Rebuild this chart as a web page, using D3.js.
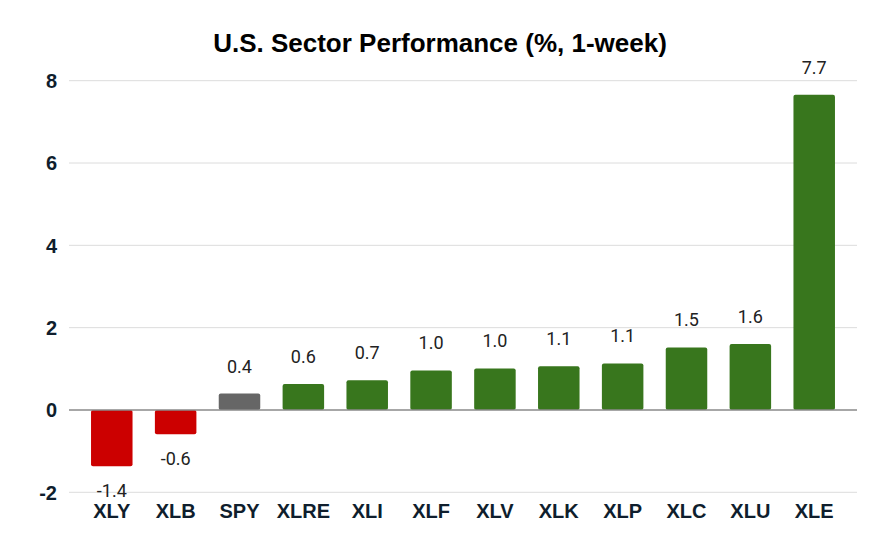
<!DOCTYPE html>
<html>
<head>
<meta charset="utf-8">
<script src="https://cdn.jsdelivr.net/npm/d3@7/dist/d3.min.js"></script>
<style>
    html, body { margin: 0; padding: 0; background: #fff; }
    .chart-title { font-family: 'Liberation Sans', Arial, sans-serif; font-weight: bold; font-size: 26px; fill: #000; text-anchor: middle; }
    .tick-label { font-family: 'Liberation Sans', Arial, sans-serif; font-weight: bold; font-size: 20px; fill: #0f1e2d; }
    .value-label { font-family: Roboto, sans-serif; font-size: 18px; fill: #222; text-anchor: middle; }
</style>
</head>
<body>
<div id="chart"></div>
<script>
// --- Data ---
const TICKERS = ['XLY', 'XLB', 'SPY', 'XLRE', 'XLI', 'XLF', 'XLV', 'XLK', 'XLP', 'XLC', 'XLU', 'XLE'];
const CHANGES = [-1.37, -0.59, 0.40, 0.63, 0.72, 0.96, 1.01, 1.06, 1.13, 1.52, 1.60, 7.66];
const Y_TICKS = [-2, 0, 2, 4, 6, 8];

const W = 880, H = 546;

const svg = d3.select('#chart').append('svg')
    .attr('width', W)
    .attr('height', H);

// --- Scales ---
const x = d3.scaleBand()
    .domain(TICKERS)
    .range([69, 857])
    .paddingInner(0.35)
    .paddingOuter(0.345);

const y = d3.scaleLinear()
    .domain([-2, 8])
    .range([492.3, 80.7]);

const barColor = (t, v) => t === 'SPY' ? '#666666' : (v < 0 ? '#cc0000' : '#38761d');
// plain hyphen for negatives, like the sheet export
const fmt = v => v.toFixed(1);

// --- Title ---
svg.append('text')
    .attr('class', 'chart-title')
    .attr('x', 440)
    .attr('y', 52)
    .text('U.S. Sector Performance (%, 1-week)');

// --- Gridlines ---
svg.append('g')
    .selectAll('line')
    .data(Y_TICKS.filter(d => d !== 0))
    .enter().append('line')
    .attr('x1', 69).attr('x2', 857)
    .attr('y1', d => y(d)).attr('y2', d => y(d))
    .attr('stroke', '#dcdcdc')
    .attr('stroke-width', 1);

// --- Y axis labels ---
svg.append('g')
    .selectAll('text')
    .data(Y_TICKS)
    .enter().append('text')
    .attr('class', 'tick-label')
    .attr('x', 57)
    .attr('y', d => y(d))
    .attr('dy', '0.36em')
    .attr('text-anchor', 'end')
    .text(d => d);

// --- Bars ---
const data = TICKERS.map((t, i) => ({ t, v: CHANGES[i] }));

svg.append('g')
    .selectAll('rect')
    .data(data)
    .enter().append('rect')
    .attr('x', d => x(d.t))
    .attr('y', d => Math.min(y(d.v), y(0)))
    .attr('width', x.bandwidth())
    .attr('height', d => Math.abs(y(d.v) - y(0)))
    .attr('rx', 2)
    .attr('fill', d => barColor(d.t, d.v));

// --- Zero line ---
svg.append('line')
    .attr('x1', 69).attr('x2', 857)
    .attr('y1', y(0)).attr('y2', y(0))
    .attr('stroke', '#8a8a8a')
    .attr('stroke-width', 1.5);

// --- Value labels ---
svg.append('g')
    .selectAll('text')
    .data(data)
    .enter().append('text')
    .attr('class', 'value-label')
    .attr('x', d => x(d.t) + x.bandwidth() / 2)
    .attr('y', d => d.v >= 0 ? y(d.v) - 21 : y(d.v) + 31)
    .text(d => fmt(d.v));

// --- X axis labels ---
svg.append('g')
    .selectAll('text')
    .data(TICKERS)
    .enter().append('text')
    .attr('class', 'tick-label')
    .attr('x', d => x(d) + x.bandwidth() / 2)
    .attr('y', 518)
    .attr('text-anchor', 'middle')
    .text(d => d);
</script>
</body>
</html>
